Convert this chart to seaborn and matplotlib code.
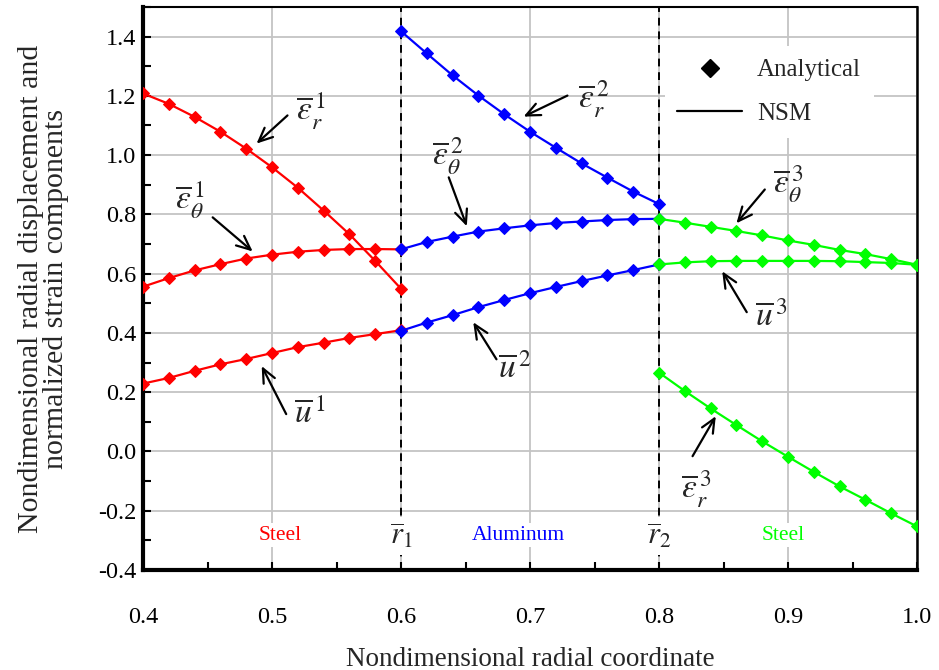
"""Layered cylinder: nondimensional displacement and strain, analytical vs NSM."""
import matplotlib
matplotlib.use("Agg")
import matplotlib.pyplot as plt
from matplotlib.lines import Line2D
from matplotlib.ticker import MultipleLocator, FuncFormatter
import seaborn as sns

# radial coordinate per layer
x_1 = [0.40, 0.42, 0.44, 0.46, 0.48, 0.50, 0.52, 0.54, 0.56, 0.58, 0.60]
x_2 = [0.60, 0.62, 0.64, 0.66, 0.68, 0.70, 0.72, 0.74, 0.76, 0.78, 0.80]
x_3 = [0.80, 0.82, 0.84, 0.86, 0.88, 0.90, 0.92, 0.94, 0.96, 0.98, 1.00]

# layer 1 (steel)
er_1 = [1.208, 1.173, 1.129, 1.079, 1.022, 0.959, 0.890, 0.813, 0.733, 0.643, 0.549]
et_1 = [0.556, 0.585, 0.611, 0.632, 0.651, 0.664, 0.674, 0.680, 0.683, 0.683, 0.682]
u_1 = [0.229, 0.248, 0.272, 0.294, 0.312, 0.332, 0.352, 0.367, 0.383, 0.396, 0.409]
# layer 2 (aluminum)
er_2 = [1.418, 1.343, 1.269, 1.201, 1.138, 1.079, 1.025, 0.972, 0.924, 0.877, 0.835]
et_2 = [0.682, 0.707, 0.725, 0.742, 0.753, 0.763, 0.771, 0.776, 0.781, 0.784, 0.785]
u_2 = [0.407, 0.435, 0.460, 0.487, 0.511, 0.534, 0.555, 0.575, 0.594, 0.612, 0.631]
# layer 3 (steel)
er_3 = [0.266, 0.204, 0.145, 0.089, 0.034, -0.018, -0.069, -0.118, -0.163, -0.209, -0.253]
et_3 = [0.785, 0.772, 0.758, 0.744, 0.729, 0.712, 0.697, 0.680, 0.666, 0.649, 0.630]
u_3 = [0.631, 0.638, 0.642, 0.643, 0.643, 0.643, 0.643, 0.642, 0.639, 0.636, 0.630]

interfaces = [0.6, 0.8]
interface_labels = [r"$\overline{r}_1$", r"$\overline{r}_2$"]
materials = ["Steel", "Aluminum", "Steel"]
material_x = [0.506, 0.691, 0.896]
layer_colors = ["#ff0000", "#0000ff", "#00ff00"]

# curve labels: (text, label xy, arrow tail xy, arrow head xy)
curve_notes = [
    (r"$\overline{\varepsilon}_r^{\,1}$", (0.530, 1.147), (0.512, 1.134), (0.488, 1.039)),
    (r"$\overline{\varepsilon}_\theta^{\,1}$", (0.436, 0.846), (0.454, 0.790), (0.485, 0.675)),
    (r"$\overline{u}^{\,1}$", (0.529, 0.126), (0.511, 0.126), (0.492, 0.288)),
    (r"$\overline{\varepsilon}_r^{\,2}$", (0.749, 1.188), (0.729, 1.201), (0.695, 1.130)),
    (r"$\overline{\varepsilon}_\theta^{\,2}$", (0.636, 0.997), (0.637, 0.925), (0.651, 0.760)),
    (r"$\overline{u}^{\,2}$", (0.688, 0.277), (0.674, 0.311), (0.656, 0.436)),
    (r"$\overline{\varepsilon}_\theta^{\,3}$", (0.900, 0.903), (0.882, 0.884), (0.860, 0.770)),
    (r"$\overline{u}^{\,3}$", (0.887, 0.453), (0.868, 0.470), (0.849, 0.608)),
    (r"$\overline{\varepsilon}_r^{\,3}$", (0.829, -0.127), (0.826, -0.016), (0.844, 0.119)),
]

sns.set_style("ticks")
plt.rcParams["font.family"] = ["Liberation Serif", "DejaVu Serif"]
plt.rcParams["mathtext.fontset"] = "stix"
plt.rcParams["axes.unicode_minus"] = False

fig = plt.figure(figsize=(9.39, 6.70), dpi=100)
ax = fig.add_axes([0.1523, 0.1493, 0.8243, 0.8403])

layers = [
    (x_1, [er_1, et_1, u_1]),
    (x_2, [er_2, et_2, u_2]),
    (x_3, [er_3, et_3, u_3]),
]
for (xs, series), color in zip(layers, layer_colors):
    for ys in series:
        sns.lineplot(x=xs, y=ys, color=color, marker="D", markersize=6.5,
                     markeredgecolor=color, linewidth=1.6, estimator=None,
                     sort=False, ax=ax, zorder=4)

for xv in interfaces:
    ax.axvline(xv, color="black", linestyle=(0, (4, 3)), linewidth=1.4, zorder=3)

ax.set_xlim(0.4, 1.0)
ax.set_ylim(-0.4, 1.5)
ax.xaxis.set_major_locator(MultipleLocator(0.1))
ax.xaxis.set_minor_locator(MultipleLocator(0.05))
ax.yaxis.set_major_locator(MultipleLocator(0.2))
ax.yaxis.set_minor_locator(MultipleLocator(0.1))
ax.xaxis.set_major_formatter(FuncFormatter(lambda v, p: f"{v:.1f}"))
ax.yaxis.set_major_formatter(FuncFormatter(lambda v, p: f"{v:.1f}"))
ax.set_yticks([-0.4, -0.2, 0.0, 0.2, 0.4, 0.6, 0.8, 1.0, 1.2, 1.4])
ax.grid(True, which="major", color="#c4c4c4", linewidth=1.3, zorder=0)
ax.tick_params(which="both", direction="in", length=6, width=1.5, colors="black",
               labelsize=17.5, top=False, right=False)
ax.tick_params(axis="x", pad=27)
ax.tick_params(axis="y", pad=5)
for side, lw in [("left", 3), ("bottom", 3), ("top", 1.5), ("right", 1.8)]:
    ax.spines[side].set_visible(True)
    ax.spines[side].set_color("black")
    ax.spines[side].set_linewidth(lw)

ax.set_xlabel("Nondimensional radial coordinate", fontsize=19.5, labelpad=13)
ax.set_ylabel("Nondimensional radial displacement and\nnormalized strain components",
              fontsize=21.5, linespacing=0.95)
ax.yaxis.set_label_coords(-0.096, 0.5)

for text, xy, tail, head in curve_notes:
    ax.text(xy[0], xy[1], text, fontsize=24, ha="center", va="center", zorder=6)
    ax.annotate("", xy=head, xytext=tail,
                arrowprops=dict(arrowstyle="->,head_length=1.0,head_width=0.45",
                                color="black", linewidth=1.6, shrinkA=0, shrinkB=0),
                zorder=6)

for name, xm, color in zip(materials, material_x, layer_colors):
    ax.text(xm, -0.282, name, fontsize=15.5, color=color, ha="center", va="center",
            bbox=dict(facecolor="white", edgecolor="none", pad=1.5), zorder=5)
for xv, lab in zip(interfaces, interface_labels):
    ax.text(xv, -0.285, lab, fontsize=22, ha="center", va="center",
            bbox=dict(facecolor="white", edgecolor="none", pad=3), zorder=5)

handles = [
    Line2D([], [], color="black", marker="D", linestyle="none", markersize=9.5),
    Line2D([], [], color="black", linewidth=1.6),
]
leg = ax.legend(handles, ["Analytical", "NSM"], loc="upper left",
                bbox_to_anchor=(0.674, 0.93), borderaxespad=0, fontsize=18,
                frameon=True, fancybox=False, handlelength=2.6, handletextpad=0.6,
                labelspacing=0.85, borderpad=0.5)
leg.get_frame().set_facecolor("white")
leg.get_frame().set_edgecolor("none")
leg.get_frame().set_alpha(1.0)
leg.set_zorder(7)

fig.savefig("out.png", dpi=100)
